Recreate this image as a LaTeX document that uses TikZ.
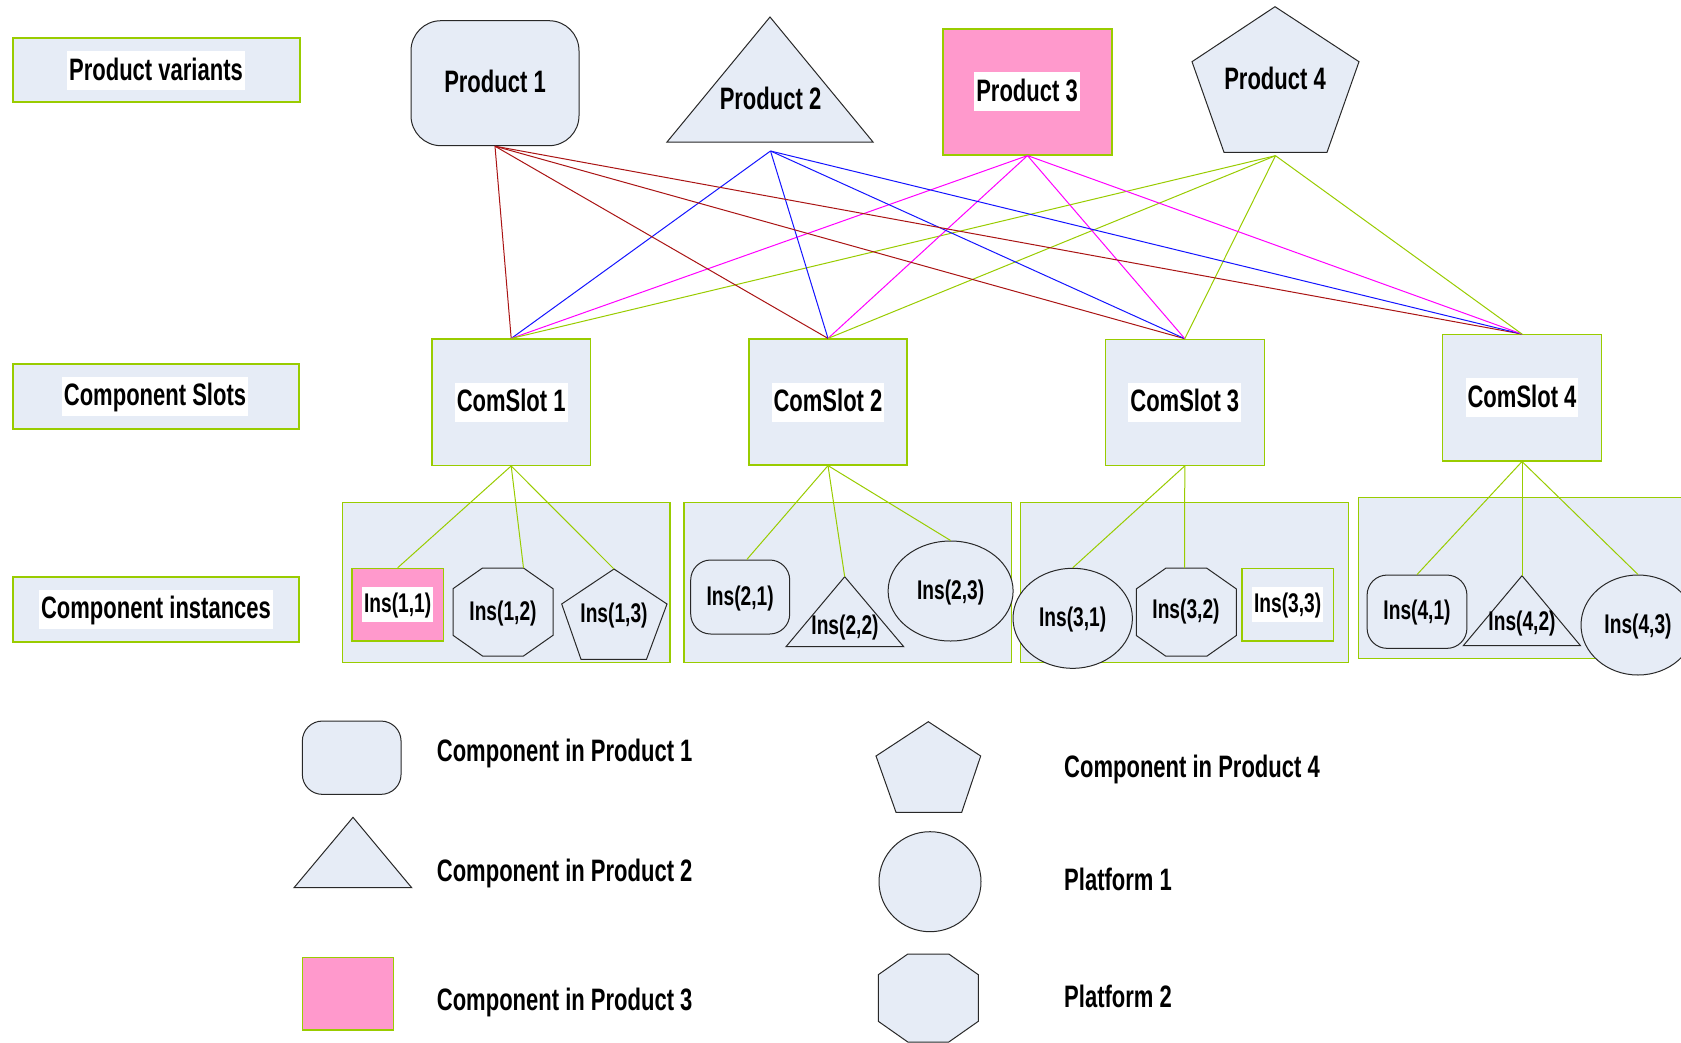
\documentclass[tikz,border=0pt]{standalone}
\usepackage{fontspec}
\setmainfont[FakeStretch=0.71]{Liberation Sans}
\usetikzlibrary{shapes.geometric}
\definecolor{fillc}{RGB}{230,236,246}
\definecolor{gborder}{RGB}{153,204,0}
\definecolor{pinkc}{RGB}{255,153,204}
\definecolor{redl}{RGB}{170,20,20}
\definecolor{bluel}{RGB}{20,20,255}
\definecolor{magl}{RGB}{255,0,255}
\definecolor{greenl}{RGB}{153,204,0}
\definecolor{outl}{RGB}{40,40,40}
\begin{document}
\begin{tikzpicture}[x=1pt,y=-1pt,
  lbl/.style={font=\fontsize{31}{37}\selectfont\bfseries, inner sep=0pt, text height=25pt, text depth=6pt},
  insl/.style={font=\fontsize{27}{32}\selectfont\bfseries, inner sep=0pt, text height=21.7pt, text depth=5.2pt},
  wbg/.style={fill=white, inner xsep=2pt, inner ysep=4pt},
  gbox/.style={draw=gborder, fill=fillc, line width=1.2pt, inner sep=0pt},
  pbox/.style={draw=gborder, fill=pinkc, line width=1.2pt, inner sep=0pt},
  shp/.style={draw=outl, fill=fillc, line width=1pt},
  panel/.style={draw=gborder, fill=fillc, line width=1.2pt},
  conn/.style={line width=1pt},
  redc/.style={conn, draw=redl},
  bluec/.style={conn, draw=bluel},
  magc/.style={conn, draw=magl},
  grnc/.style={conn, draw=greenl}
]
\path[use as bounding box] (0,0) rectangle (1681,1042);
\fill[white] (0,0) rectangle (1681,1042);
\clip (0,0) rectangle (1681,1042);

% left labels
\node[gbox, minimum width=287, minimum height=64] (pvbox) at (156.5,70) {};
\node[lbl, wbg] (pvt) at (156,70.5) {Product variants};
\node[gbox, minimum width=286, minimum height=65] (csbox) at (156,396.5) {};
\node[lbl, wbg] (cst) at (155,396) {Component Slots};
\node[gbox, minimum width=286, minimum height=65] (cibox) at (156,609.5) {};
\node[lbl, wbg] (cit) at (156,609) {Component instances};

% products
\node[shp, lbl, rounded corners=30pt, minimum width=168, minimum height=125] (p1) at (495,83.2) {Product 1};
\draw[shp] (770,17) -- (873,142) -- (667,142) -- cycle;
\node[lbl] (p2) at (770.5,100) {Product 2};
\coordinate (p2o) at (770.5,151);
\node[pbox, minimum width=169, minimum height=126] (p3) at (1027.5,92) {};
\node[lbl, wbg] (p3t) at (1027,91.5) {Product 3};
\draw[shp] (1275,6.7) -- (1359,61.7) -- (1327,152.3) -- (1224,152.3) -- (1192,61.7) -- cycle;
\node[lbl] (p4) at (1275,80) {Product 4};
\coordinate (p4o) at (1275.5,155.7);

% component slots
\node[gbox, minimum width=158.5, minimum height=126.3] (cs1) at (511.2,402.2) {};
\node[lbl, wbg] at (cs1) {ComSlot 1};
\node[gbox, minimum width=158, minimum height=126] (cs2) at (828,402) {};
\node[lbl, wbg] at (cs2) {ComSlot 2};
\node[gbox, minimum width=159, minimum height=126] (cs3) at (1184.8,402.3) {};
\node[lbl, wbg] at (cs3) {ComSlot 3};
\node[gbox, minimum width=159, minimum height=126.3] (cs4) at (1522,397.8) {};
\node[lbl, wbg] at (cs4) {ComSlot 4};

% product -> slot connectors
\foreach \s in {cs1,cs2,cs3,cs4} {
  \draw[redc] (p1.south) -- (\s.north);
  \draw[bluec] (p2o) -- (\s.north);
  \draw[magc] (p3.south) -- (\s.north);
  \draw[grnc] (p4o) -- (\s.north);
}

% panels
\draw[panel] (342.5,502.3) rectangle (670,662.7);
\draw[panel] (684,502.3) rectangle (1011.7,662.7);
\draw[panel] (1020.8,502.3) rectangle (1348.7,662.7);
\draw[panel] (1358.7,497.3) rectangle (1700,658.3);

% instances slot 1
\node[pbox, minimum width=91.4, minimum height=72.7] (i11) at (397.7,604.7) {};
\node[insl, wbg] at (i11) {Ins(1,1)};
\draw[shp, shift={(503,612)}] (-20.5,-44) -- (20.5,-44) -- (50,-23.3) -- (50,23.3) -- (20.5,44) -- (-20.5,44) -- (-50,23.3) -- (-50,-23.3) -- cycle;
\node[insl] (i12) at (503,612) {Ins(1,2)};
\coordinate (i12t) at (523.5,568);
\draw[shp] (614,569) -- (667,604) -- (646.5,659.3) -- (581,659.3) -- (561.7,604) -- cycle;
\node[insl] (i13) at (614,614) {Ins(1,3)};
\coordinate (i13t) at (614,569);

% instances slot 2
\node[shp, insl, rounded corners=20pt, minimum width=99, minimum height=74] (i21) at (740.2,597) {Ins(2,1)};
\draw[shp] (844.7,576.7) -- (903.7,646.7) -- (786,646.7) -- cycle;
\node[insl] (i22) at (845,626) {Ins(2,2)};
\coordinate (i22t) at (844.7,576.7);
\node[shp, insl, ellipse, minimum width=125, minimum height=100] (i23) at (950.6,591) {Ins(2,3)};

% instances slot 3
\node[shp, insl, ellipse, minimum width=119.4, minimum height=100] (i31) at (1072.7,618.3) {Ins(3,1)};
\draw[shp, shift={(1186.3,612.2)}] (-20.5,-44) -- (20.5,-44) -- (50,-23.3) -- (50,23.3) -- (20.5,44) -- (-20.5,44) -- (-50,23.3) -- (-50,-23.3) -- cycle;
\node[insl] (i32) at (1186,610) {Ins(3,2)};
\coordinate (i32t) at (1184.5,568.2);
\node[gbox, minimum width=91.6, minimum height=72.7] (i33) at (1287.7,604.7) {};
\node[insl, wbg] at (i33) {Ins(3,3)};

% instances slot 4
\node[shp, insl, rounded corners=20pt, minimum width=99.8, minimum height=73.3] (i41) at (1417,611.7) {Ins(4,1)};
\draw[shp] (1522,575.7) -- (1580.5,645.7) -- (1463.3,645.7) -- cycle;
\node[insl] (i42) at (1522,622) {Ins(4,2)};
\coordinate (i42t) at (1522,575.7);
\node[shp, insl, ellipse, minimum width=114, minimum height=100] (i43) at (1638,625) {Ins(4,3)};

% slot -> instance connectors
\draw[grnc] (cs1.south) -- (i11.north);
\draw[grnc] (cs1.south) -- (i12t);
\draw[grnc] (cs1.south) -- (i13t);
\draw[grnc] (cs2.south) -- (i21.80);
\draw[grnc] (cs2.south) -- (i22t);
\draw[grnc] (cs2.south) -- (i23.north);
\draw[grnc] (cs3.south) -- (i31.north);
\draw[grnc] (cs3.south) -- (i32t);
\draw[grnc] (cs4.south) -- (i41.north);
\draw[grnc] (cs4.south) -- (i42t);
\draw[grnc] (cs4.south) -- (i43.north);

% legend
\node[shp, rounded corners=20pt, minimum width=98.7, minimum height=73.3, inner sep=0pt] (lg1) at (351.7,757.7) {};
\node[lbl, anchor=west] (lt1) at (436.7,752) {Component in Product 1};
\draw[shp] (353,817.3) -- (411.7,887.7) -- (294,887.7) -- cycle;
\node[lbl, anchor=west] (lt2) at (436.7,872) {Component in Product 2};
\node[pbox, minimum width=91.4, minimum height=72.7] (lg3) at (348,993.7) {};
\node[lbl, anchor=west] (lt3) at (436.7,1001) {Component in Product 3};
\draw[shp] (928.3,721.7) -- (980.7,756) -- (961.7,812.3) -- (896,812.3) -- (876,756) -- cycle;
\node[lbl, anchor=west] (lt4) at (1064,768) {Component in Product 4};
\node[shp, ellipse, minimum width=102, minimum height=100, inner sep=0pt] (lg5) at (930,881.7) {};
\node[lbl, anchor=west] (lt5) at (1064,880.5) {Platform 1};
\draw[shp, shift={(928.3,998)}] (-20.5,-44) -- (20.5,-44) -- (50,-23.3) -- (50,23.3) -- (20.5,44) -- (-20.5,44) -- (-50,23.3) -- (-50,-23.3) -- cycle;
\node[lbl, anchor=west] (lt6) at (1064,998) {Platform 2};
\end{tikzpicture}
\end{document}
